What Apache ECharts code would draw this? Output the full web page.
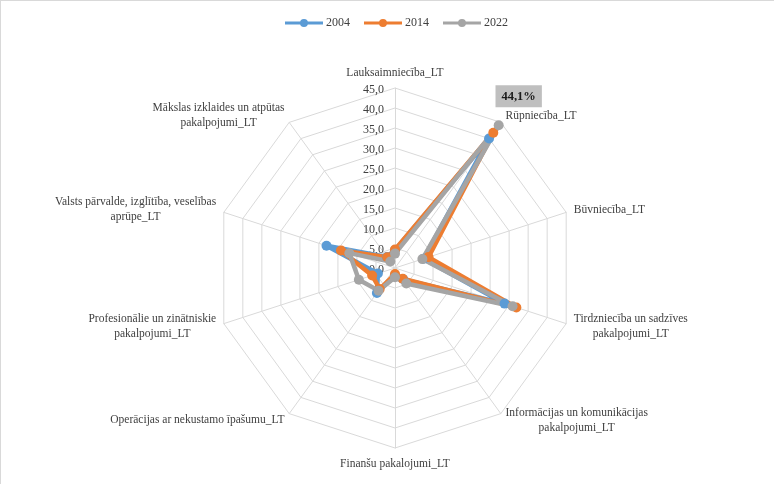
<!DOCTYPE html>
<html><head><meta charset="utf-8">
<script src="https://cdn.jsdelivr.net/npm/echarts@6/dist/echarts.min.js"></script>
<style>
html,body{margin:0;padding:0;background:#fff;}
#frame{position:absolute;left:0;top:0;width:774px;height:484px;box-sizing:border-box;border-left:1px solid #d9d9d9;border-top:1px solid #d9d9d9;pointer-events:none;}
#chart{position:absolute;left:0;top:0;width:774px;height:484px;}
</style></head><body>
<div id="chart"></div>
<div id="frame"></div>
<script>
// Categories in clockwise order starting from the top
const categories = [
  'Lauksaimniecība_LT',
  'Rūpniecība_LT',
  'Būvniecība_LT',
  'Tirdzniecība un sadzīves\npakalpojumi_LT',
  'Informācijas un komunikācijas\npakalpojumi_LT',
  'Finanšu pakalojumi_LT',
  'Operācijas ar nekustamo īpašumu_LT',
  'Profesionālie un zinātniskie\npakalpojumi_LT',
  'Valsts pārvalde, izglītība, veselības\naprūpe_LT',
  'Mākslas izklaides un atpūtas\npakalpojumi_LT'
];
const seriesNames = ['2004', '2014', '2022'];
const values2004 = [4.5, 40.0, 7.5, 28.8, 3.5, 1.8, 7.7, 4.5, 18.0, 3.4];
const values2014 = [4.6, 41.8, 8.8, 31.9, 3.3, 1.5, 6.5, 6.0, 14.2, 3.3];
const values2022 = [3.6, 44.1, 7.2, 30.9, 4.8, 2.3, 7.0, 9.5, 12.0, 2.0];
const axisMin = 0, axisMax = 45, axisStep = 5;
const highlightValue = 44.1;

const colors = ['#5B9BD5', '#ED7D31', '#A5A5A5'];
const fontFamily = '"Liberation Serif", "Times New Roman", serif';
const textColor = '#404040';
const fmt = v => v.toFixed(1).replace('.', ',');

// ECharts radar runs counter-clockwise; reorder so the picture reads clockwise
const order = categories.map((_, i) => (i === 0 ? 0 : categories.length - i));
const reorder = arr => order.map(k => arr[k]);

const indicator = reorder(categories).map((name, i) => {
  const o = { name: name, min: axisMin, max: axisMax };
  if (i === 0) {
    o.axisLabel = { show: true, formatter: fmt, color: textColor, fontSize: 12, fontFamily: fontFamily, margin: 11, showMinLabel: true, verticalAlign: 'top', padding: [-4, 0, 0, 0] };
  }
  return o;
});

const allValues = [values2004, values2014, values2022];
const legendIcon = 'path://M0,2.5 H38 V5.5 H0 Z M19,0 A4,4 0 1,1 18.99,0 Z';

const series = [{
  type: 'radar',
  symbol: 'circle',
  symbolSize: 10,
  data: allValues.map((vals, i) => ({
    name: seriesNames[i],
    value: reorder(vals),
    lineStyle: { color: colors[i], width: 4.5 },
    itemStyle: { color: colors[i] },
    label: i === 2 ? {
      show: true,
      position: 'top',
      offset: [20, -8],
      formatter: p => (typeof p.value === 'number' && p.value === highlightValue) ? '{b|' + fmt(p.value) + '%}' : '',
      rich: {
        b: { backgroundColor: '#BFBFBF', padding: [5, 6, 4, 6], fontWeight: 'bold', fontSize: 12.5, fontFamily: fontFamily, color: '#1a1a1a' }
      }
    } : { show: false }
  }))
}];

const chart = echarts.init(document.getElementById('chart'), null, { renderer: 'canvas' });
chart.setOption({
  animation: false,
  color: colors,
  legend: {
    top: 12,
    left: 280,
    itemWidth: 38,
    itemHeight: 8,
    itemGap: 14,
    icon: legendIcon,
    data: seriesNames,
    textStyle: { color: textColor, fontSize: 12, fontFamily: fontFamily, padding: [0, 0, 0, -2] }
  },
  radar: {
    center: [395, 268],
    radius: 180,
    shape: 'polygon',
    splitNumber: (axisMax - axisMin) / axisStep,
    startAngle: 90,
    indicator: indicator,
    axisName: {
      color: textColor, fontSize: 11.5, fontFamily: fontFamily, lineHeight: 15,
      formatter: v => v.split('\n').map(s => '{c|' + s + '}').join('\n'),
      rich: { c: { align: 'center', color: textColor, fontSize: 11.5, fontFamily: fontFamily, lineHeight: 15 } }
    },
    nameGap: 8,
    axisLine: { lineStyle: { color: '#D9D9D9', width: 1 } },
    splitLine: { lineStyle: { color: '#D9D9D9', width: 1 } },
    splitArea: { show: false },
    axisTick: { show: false },
    axisLabel: { show: false }
  },
  series: series
});
</script>
</body></html>
